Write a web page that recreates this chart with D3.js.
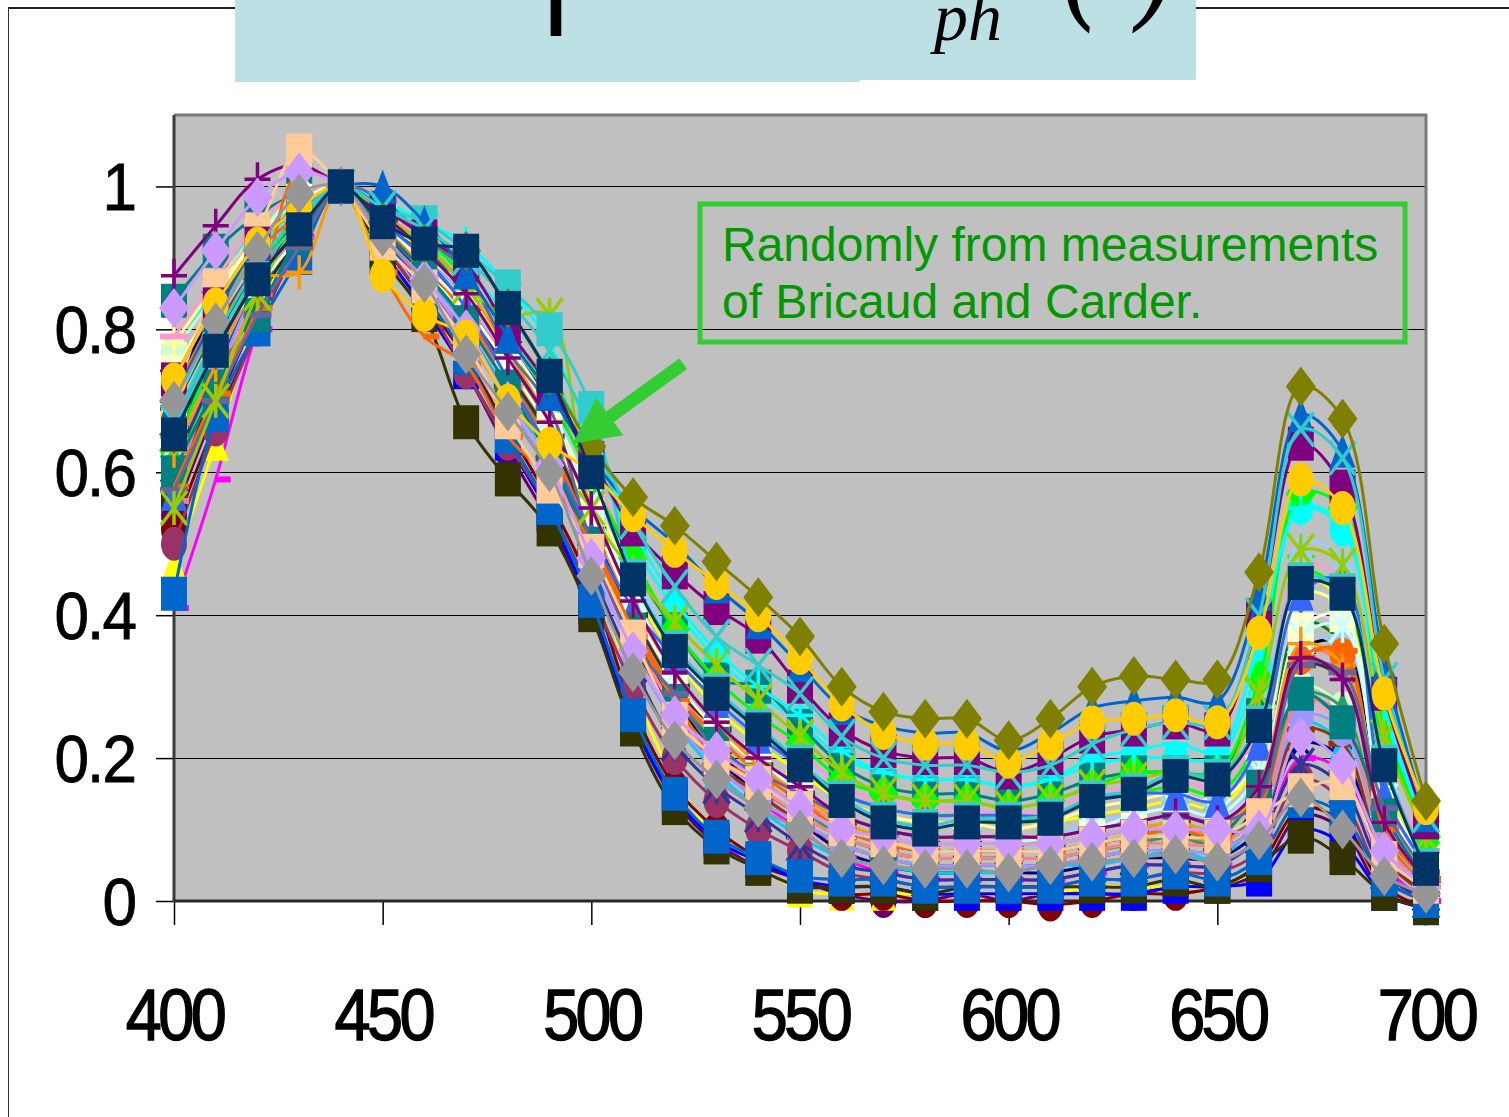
<!DOCTYPE html>
<html>
<head>
<meta charset="utf-8">
<script src="https://cdn.jsdelivr.net/npm/d3@7"></script>
<style>
  body { margin: 0; background: #fff; }
  svg { display: block; }
</style>
</head>
<body>
<svg id="chart" width="1509" height="1117"></svg>
<script>
// wavelengths (nm) and normalised a_ph spectra, one row per sample
var wavelengths = [400,410,420,430,440,450,460,470,480,490,500,510,520,530,540,550,560,570,580,590,600,610,620,630,640,650,660,670,680,690,700];
var xTicks = [400,450,500,550,600,650,700];
var yTicks = [0,0.2,0.4,0.6,0.8,1];

var spectra = [
  [.54,.69,.82,.92,1,.91,.83,.74,.63,.53,.41,.25,.14,.08,.05,.03,.01,.00,.00,.01,.00,.01,.01,.01,.02,.02,.04,.12,.10,.01,-.01],
  [.72,.83,.92,.97,1,.96,.90,.84,.76,.66,.52,.38,.27,.20,.15,.11,.07,.05,.04,.04,.04,.04,.05,.06,.06,.06,.10,.22,.20,.06,.01],
  [.65,.79,.89,.95,1,.96,.92,.86,.78,.68,.55,.42,.32,.25,.20,.16,.12,.10,.09,.09,.085,.09,.10,.11,.12,.11,.17,.40,.38,.13,.04],
  [.68,.79,.88,.95,1,.95,.91,.85,.77,.68,.56,.44,.34,.27,.22,.18,.14,.12,.11,.11,.10,.11,.12,.13,.14,.13,.20,.45,.42,.17,.06],
  [.62,.75,.87,.95,1,.95,.90,.84,.75,.65,.53,.40,.30,.23,.18,.14,.11,.09,.08,.08,.08,.08,.09,.10,.10,.10,.15,.35,.33,.11,.03],
  [.60,.74,.86,.94,1,.96,.92,.86,.78,.69,.57,.45,.35,.28,.23,.19,.15,.13,.12,.12,.11,.12,.14,.15,.16,.15,.23,.46,.43,.18,.06],
  [.64,.77,.88,.95,1,.95,.89,.82,.73,.63,.51,.38,.28,.21,.16,.12,.09,.07,.06,.06,.06,.06,.07,.08,.09,.08,.14,.35,.36,.11,.03],
  [.73,.84,.92,.97,1,.96,.92,.87,.79,.70,.58,.46,.36,.29,.24,.20,.16,.14,.13,.13,.12,.13,.15,.16,.17,.16,.25,.50,.48,.20,.07],
  [.58,.72,.85,.94,1,.94,.88,.82,.72,.62,.49,.36,.26,.19,.15,.11,.08,.06,.05,.05,.05,.05,.06,.07,.07,.07,.11,.27,.25,.07,.02],
  [.67,.79,.89,.96,1,.95,.90,.84,.76,.66,.54,.41,.31,.24,.19,.15,.11,.09,.08,.08,.08,.08,.09,.10,.11,.10,.16,.39,.36,.12,.04],
  [.41,.59,.80,.93,1,.93,.86,.79,.70,.61,.50,.37,.26,.19,.14,.10,.06,.04,.03,.03,.03,.03,.04,.05,.05,.05,.09,.20,.18,.05,.00],
  [.47,.64,.82,.94,1,.94,.88,.80,.71,.62,.47,.30,.17,.09,.05,.015,.01,.01,.01,.01,.01,.01,.02,.02,.02,.02,.05,.14,.12,.03,.00],
  [.76,.86,.94,.98,1,.95,.92,.88,.82,.74,.63,.50,.41,.34,.29,.25,.20,.18,.17,.17,.16,.17,.19,.20,.20,.20,.33,.55,.52,.26,.10],
  [.52,.67,.80,.92,1,.92,.84,.76,.66,.56,.44,.27,.16,.10,.06,.03,.01,.01,.00,.00,.00,-.005,.00,.01,.01,.02,.05,.13,.11,.02,-.01],
  [.84,.91,.96,.99,1,.96,.91,.86,.78,.70,.60,.47,.38,.31,.30,.245,.19,.16,.15,.15,.14,.15,.17,.18,.18,.18,.26,.29,.25,.12,.04],
  [.60,.72,.84,.93,1,.91,.83,.74,.64,.54,.41,.25,.145,.085,.055,.03,.02,.02,.01,.01,.01,.01,.01,.01,.02,.02,.03,.10,.08,.01,-.01],
  [.62,.76,.88,.96,1,.94,.88,.80,.71,.61,.48,.35,.25,.18,.13,.09,.06,.05,.04,.04,.04,.05,.05,.06,.07,.06,.12,.25,.22,.07,.02],
  [.77,.85,.93,.99,1,.94,.88,.82,.73,.63,.50,.37,.27,.20,.16,.12,.09,.07,.06,.06,.06,.06,.07,.08,.09,.08,.13,.30,.27,.08,.02],
  [.78,.86,.92,.97,1,.96,.91,.85,.78,.69,.57,.45,.35,.28,.23,.19,.14,.12,.11,.11,.10,.11,.13,.14,.15,.14,.20,.43,.41,.16,.05],
  [.68,.80,.90,.96,1,.95,.90,.84,.76,.67,.55,.42,.32,.25,.20,.16,.12,.10,.09,.09,.09,.09,.11,.12,.13,.12,.17,.37,.35,.12,.04],
  [.79,.87,.95,.99,1,.96,.93,.88,.79,.71,.60,.48,.38,.31,.26,.21,.16,.14,.13,.13,.12,.13,.15,.16,.17,.16,.24,.47,.45,.19,.07],
  [.50,.66,.80,.92,1,.92,.84,.74,.64,.55,.43,.30,.20,.14,.10,.07,.04,.03,.02,.02,.02,.02,.03,.03,.04,.04,.07,.17,.14,.03,.00],
  [.61,.74,.86,.95,1,.94,.87,.80,.70,.60,.46,.33,.22,.16,.12,.08,.05,.04,.03,.03,.03,.03,.04,.05,.05,.05,.09,.19,.16,.04,.00],
  [.66,.78,.88,.95,1,.95,.89,.83,.74,.64,.52,.39,.29,.22,.17,.13,.09,.07,.06,.06,.06,.06,.07,.08,.09,.08,.13,.29,.27,.09,.02],
  [.57,.72,.84,.93,1,.90,.82,.67,.59,.52,.40,.24,.13,.075,.045,.02,.02,.02,.01,.02,.02,.02,.02,.02,.03,.02,.05,.09,.06,.01,-.01],
  [.66,.78,.89,.95,1,.95,.90,.83,.74,.65,.52,.40,.30,.24,.19,.15,.11,.09,.08,.08,.08,.08,.09,.10,.11,.10,.15,.33,.31,.10,.03],
  [.69,.80,.89,.95,1,.94,.88,.81,.72,.62,.49,.36,.26,.19,.15,.11,.08,.06,.05,.05,.05,.05,.06,.07,.07,.07,.11,.24,.22,.06,.01],
  [.63,.77,.88,.96,1,.97,.93,.87,.80,.71,.59,.48,.38,.31,.26,.22,.17,.15,.14,.14,.13,.14,.16,.18,.18,.18,.31,.57,.55,.25,.09],
  [.71,.82,.91,.96,1,.94,.89,.82,.73,.64,.51,.39,.29,.23,.18,.14,.10,.08,.07,.07,.07,.07,.08,.09,.09,.09,.16,.34,.345,.09,.02],
  [.74,.84,.93,.98,1,.95,.89,.83,.75,.66,.54,.41,.31,.24,.19,.15,.11,.09,.08,.08,.08,.08,.09,.10,.11,.10,.16,.38,.40,.13,.04],
  [.59,.73,.86,.94,1,.93,.87,.79,.70,.60,.47,.35,.25,.19,.14,.11,.08,.06,.05,.05,.05,.05,.06,.07,.07,.07,.11,.26,.24,.08,.02],
  [.56,.71,.85,.94,1,.94,.88,.81,.72,.62,.50,.37,.27,.20,.16,.12,.09,.07,.06,.06,.06,.06,.07,.08,.08,.08,.12,.28,.26,.08,.02],
  [.69,.81,.91,.97,1,.98,.95,.92,.86,.78,.65,.52,.42,.35,.30,.26,.21,.18,.17,.17,.16,.17,.20,.21,.22,.21,.36,.55,.53,.27,.10],
  [.64,.78,.86,.93,1,.95,.90,.86,.77,.68,.56,.43,.32,.25,.20,.15,.11,.09,.08,.08,.08,.09,.10,.12,.13,.12,.18,.37,.385,.14,.04],
  [.57,.70,.82,.92,1,.95,.90,.83,.73,.63,.51,.41,.34,.28,.23,.19,.15,.13,.12,.12,.12,.12,.14,.15,.15,.14,.22,.43,.45,.15,.05],
  [.43,.68,.80,.90,1,.93,.85,.76,.65,.55,.42,.26,.15,.09,.06,.035,.03,.03,.02,.02,.02,.02,.03,.03,.04,.03,.06,.14,.12,.03,.00],
  [.60,.72,.82,.93,1,.94,.88,.81,.72,.62,.50,.38,.28,.22,.17,.13,.10,.08,.07,.07,.07,.07,.08,.09,.10,.09,.16,.29,.25,.12,.03],
  [.63,.75,.87,.88,1,.96,.92,.86,.77,.67,.55,.42,.32,.25,.19,.15,.11,.09,.08,.08,.08,.08,.09,.10,.11,.10,.16,.36,.33,.11,.03],
  [.58,.71,.83,1.02,1,.88,.79,.75,.65,.59,.50,.38,.28,.20,.17,.13,.10,.08,.07,.07,.07,.07,.08,.09,.10,.09,.13,.34,.35,.10,.03],
  [.575,.70,.82,.915,1,.98,.93,.88,.77,.69,.50,.36,.29,.21,.18,.15,.12,.10,.09,.09,.09,.09,.10,.11,.12,.11,.14,.33,.32,.13,.04],
  [.55,.70,.85,.95,1,.96,.92,.86,.82,.82,.55,.46,.39,.33,.28,.23,.18,.15,.14,.14,.13,.14,.16,.17,.18,.17,.29,.49,.47,.23,.09],
  [.66,.78,.88,.95,1,.97,.95,.91,.86,.80,.69,.455,.355,.295,.245,.195,.145,.115,.105,.115,.115,.12,.145,.155,.18,.175,.25,.45,.435,.195,.05],
  [.875,.945,1.01,1.03,1,.96,.91,.85,.76,.67,.55,.42,.32,.25,.20,.16,.12,.10,.09,.09,.09,.09,.10,.11,.12,.11,.16,.34,.31,.11,.03],
  [.70,.86,.94,1.05,1,.92,.86,.78,.67,.58,.49,.37,.255,.20,.165,.13,.10,.085,.07,.07,.07,.07,.08,.09,.09,.09,.12,.155,.165,.06,.02],
  [.83,.91,.985,1.02,1,.93,.87,.80,.70,.61,.48,.35,.26,.21,.17,.13,.10,.09,.08,.08,.08,.08,.09,.10,.10,.10,.10,.23,.19,.07,.02],
  [.73,.835,.92,.97,1,.97,.93,.89,.80,.72,.62,.52,.46,.41,.37,.30,.24,.21,.20,.20,.18,.20,.23,.24,.25,.24,.40,.64,.58,.29,.11],
  [.70,.82,.92,.97,1,1.0,.95,.88,.79,.71,.62,.55,.50,.44,.39,.33,.27,.245,.235,.235,.21,.235,.27,.28,.285,.28,.43,.68,.63,.33,.12],
  [.67,.79,.89,.96,1,.97,.94,.90,.84,.77,.66,.53,.44,.37,.33,.29,.23,.20,.19,.19,.18,.19,.22,.24,.25,.25,.40,.66,.62,.31,.12],
  [.73,.835,.92,.97,1,.875,.82,.79,.70,.64,.60,.54,.49,.445,.40,.34,.275,.235,.22,.22,.195,.22,.25,.255,.26,.25,.375,.59,.55,.29,.13],
  [.653,.77,.87,.94,1,.95,.92,.91,.83,.735,.636,.565,.525,.475,.425,.37,.30,.265,.255,.255,.225,.255,.30,.315,.31,.31,.46,.72,.675,.36,.14],
  [.70,.81,.91,.99,1,.93,.865,.765,.685,.60,.455,.32,.225,.17,.13,.10,.06,.05,.045,.045,.04,.05,.055,.06,.065,.055,.085,.145,.10,.035,.01],
  [.653,.77,.87,.94,1,.95,.92,.91,.83,.735,.60,.45,.35,.29,.24,.19,.14,.11,.10,.11,.11,.115,.14,.15,.175,.17,.245,.445,.43,.19,.045]
];

var seriesColors = [
  '#660066','#000080','#CCCCFF','#FFFF00','#FF8080','#00FF00','#000000','#99CCFF','#FF99CC','#008000',
  '#FF00FF','#FFFF00','#00FFFF','#800000','#008080','#0000FF','#00CCFF','#CCFFCC','#FFFF99','#99CCFF',
  '#FF99CC','#993366','#333399','#339966','#333300','#333333','#993300','#00FF00','#FF6600','#FFFFCC',
  '#9999FF','#FF8080','#00FFFF','#CCFFFF','#3366FF','#0066CC','#008080','#FF9900','#FF6600','#666699',
  '#99CC00','#33CCCC','#800080','#FFCC99','#CC99FF','#800080','#0066CC','#33CCCC','#FFCC00','#808000',
  '#969696','#003366'
];
var seriesMarkers = [
  'circle','x','circle','dash','circle','x','dot','triangle','square','plus',
  'dot','triangle','circle','circle','square','square','triangle','circle','plus','square',
  'dash','circle','star','triangle','square','dot','dash','diamond','circle','square',
  'circle','dot','plus','star','triangle','square','square','plus','dot','dash',
  'star','square','plus','square','diamond','square','triangle','x','circle','diamond',
  'diamond','square'
];

var noteLines = ['Randomly from measurements', 'of Bricaud and Carder.'];
var arrowFrom = [522, 0.752];
var arrowTo = [495.5, 0.64];

var svg = d3.select('#chart');
var W = 1509, H = 1117;
var PLOT = {left: 174, top: 115, right: 1426, bottom: 901};
var SANS = "'Liberation Sans', Arial, sans-serif";
var SERIF = "'Liberation Serif', 'Times New Roman', serif";

var x = d3.scaleLinear().domain([400, 700]).range([PLOT.left, PLOT.right]);
var y = d3.scaleLinear().domain([0, 1.1]).range([PLOT.bottom, PLOT.top]);

// outer slide frame
svg.append('line').attr('x1', 8).attr('y1', 8).attr('x2', W).attr('y2', 8)
   .attr('stroke', '#222').attr('stroke-width', 2);
svg.append('line').attr('x1', 8.5).attr('y1', 8).attr('x2', 8.5).attr('y2', H)
   .attr('stroke', '#333').attr('stroke-width', 1);

// title box (its text is mostly above the picture)
svg.append('rect').attr('x', 235).attr('y', 0).attr('width', 961).attr('height', 80).attr('fill', '#BCE0E3');
svg.append('rect').attr('x', 235).attr('y', 0).attr('width', 625).attr('height', 82).attr('fill', '#BCE0E3');
svg.append('text').attr('x', 528).attr('y', -4).attr('transform', 'scale(0.62,1)')
   .attr('font-family', SANS).attr('font-size', 195).attr('fill', '#000').text('Shape of');
svg.append('text').attr('x', 880).attr('y', -6).attr('font-family', SERIF).attr('font-style', 'italic')
   .attr('font-size', 120).attr('fill', '#000').text('a');
svg.append('text').attr('x', 934).attr('y', 40).attr('font-family', SERIF).attr('font-style', 'italic')
   .attr('font-size', 68).attr('fill', '#000').text('ph');
var paren = svg.append('text').attr('transform', 'scale(1,1.3)').attr('font-family', SERIF)
   .attr('font-style', 'italic').attr('font-size', 120).attr('fill', '#000');
paren.append('tspan').attr('x', 1062).attr('y', 0).text('(');
paren.append('tspan').attr('x', 1100).attr('y', -30).text('λ');
paren.append('tspan').attr('x', 1138).attr('y', 0).text(')');

// plot area
svg.append('rect').attr('x', PLOT.left).attr('y', PLOT.top)
   .attr('width', PLOT.right - PLOT.left).attr('height', PLOT.bottom - PLOT.top)
   .attr('fill', '#C0C0C0');

// gridlines
svg.append('g').selectAll('line').data(yTicks.filter(function(d){ return d > 0; })).enter()
   .append('line')
   .attr('x1', PLOT.left).attr('x2', PLOT.right)
   .attr('y1', function(d){ return Math.round(y(d)) + 0.5; })
   .attr('y2', function(d){ return Math.round(y(d)) + 0.5; })
   .attr('stroke', '#000').attr('stroke-width', 1);

// plot border top/right
svg.append('path')
   .attr('d', 'M' + PLOT.left + ',' + PLOT.top + 'H' + PLOT.right + 'V' + PLOT.bottom)
   .attr('fill', 'none').attr('stroke', '#7a7a7a').attr('stroke-width', 3);

// axes
var yAxis = d3.axisLeft(y).tickValues(yTicks).tickSize(18).tickSizeOuter(0)
   .tickFormat(function(d){ return d === 0 ? '0' : d === 1 ? '1' : d3.format('.1f')(d); });
var gy = svg.append('g').attr('transform', 'translate(' + PLOT.left + ',0)').call(yAxis);
gy.select('.domain').remove();
gy.selectAll('.tick line').attr('stroke', '#000').attr('stroke-width', 1.5);
gy.selectAll('.tick text')
   .attr('font-family', SANS).attr('font-size', 66).attr('fill', '#000')
   .attr('stroke', '#000').attr('stroke-width', 0.8)
   .attr('x', -39 / 0.94).attr('dy', '0.35em').attr('letter-spacing', -2)
   .attr('transform', 'scale(0.94,1)');

var xAxis = d3.axisBottom(x).tickValues(xTicks).tickSize(24).tickSizeOuter(0).tickFormat(d3.format('d'));
var gx = svg.append('g').attr('transform', 'translate(0,' + PLOT.bottom + ')').call(xAxis);
gx.select('.domain').remove();
gx.selectAll('.tick line').attr('stroke', '#000').attr('stroke-width', 1.5);
gx.selectAll('.tick text')
   .attr('font-family', SANS).attr('font-size', 72).attr('fill', '#000')
   .attr('stroke', '#000').attr('stroke-width', 1.4)
   .attr('y', 139).attr('dy', 0).attr('letter-spacing', -4)
   .attr('transform', 'scale(0.9,1)');

svg.append('line').attr('x1', PLOT.left).attr('x2', PLOT.left).attr('y1', PLOT.top).attr('y2', PLOT.bottom + 1)
   .attr('stroke', '#3a3a3a').attr('stroke-width', 3);
svg.append('line').attr('x1', PLOT.left).attr('x2', PLOT.right).attr('y1', PLOT.bottom).attr('y2', PLOT.bottom)
   .attr('stroke', '#2a2a2a').attr('stroke-width', 3);

// markers
var MW = 13, MH = 17;
var markerPaths = {
  square:   'M' + (-MW) + ',' + (-MH) + 'h' + (2 * MW) + 'v' + (2 * MH) + 'h' + (-2 * MW) + 'Z',
  diamond:  'M0,' + (-MH - 3) + 'L' + (MW + 2) + ',0L0,' + (MH + 3) + 'L' + (-MW - 2) + ',0Z',
  triangle: 'M0,' + (-MH) + 'L' + MW + ',' + MH + 'L' + (-MW) + ',' + MH + 'Z',
  x:        'M' + (-MW) + ',' + (-MH) + 'L' + MW + ',' + MH + 'M' + (-MW) + ',' + MH + 'L' + MW + ',' + (-MH),
  star:     'M' + (-MW) + ',' + (-MH) + 'L' + MW + ',' + MH + 'M' + (-MW) + ',' + MH + 'L' + MW + ',' + (-MH) + 'M0,' + (-MH) + 'V' + MH,
  plus:     'M' + (-MW) + ',0H' + MW + 'M0,' + (-MH) + 'V' + MH,
  dot:      'M-1,-3h16v6h-16Z',
  dash:     'M' + (-MW - 1) + ',-3h' + (2 * MW + 2) + 'v6h' + (-2 * MW - 2) + 'Z'
};
var strokedMarkers = {x: true, star: true, plus: true};

var line = d3.line()
   .x(function(d, i){ return x(wavelengths[i]); })
   .y(function(d){ return y(d); })
   .curve(d3.curveCatmullRom.alpha(0.5));

var series = svg.append('g').selectAll('g.series').data(spectra).enter()
   .append('g').attr('class', 'series');

series.append('path')
   .attr('d', line)
   .attr('fill', 'none')
   .attr('stroke', function(d, i){ return seriesColors[i]; })
   .attr('stroke-width', 3);

series.each(function(vals, i) {
  var type = seriesMarkers[i], col = seriesColors[i];
  var g = d3.select(this);
  vals.forEach(function(v, j) {
    var cx = x(wavelengths[j]), cy = y(v);
    if (type === 'circle') {
      g.append('ellipse').attr('cx', cx).attr('cy', cy).attr('rx', MW).attr('ry', MH).attr('fill', col);
    } else if (strokedMarkers[type]) {
      g.append('path').attr('transform', 'translate(' + cx + ',' + cy + ')').attr('d', markerPaths[type])
       .attr('fill', 'none').attr('stroke', col).attr('stroke-width', 3.5);
    } else {
      g.append('path').attr('transform', 'translate(' + cx + ',' + cy + ')').attr('d', markerPaths[type])
       .attr('fill', col);
    }
  });
});

// annotation box
svg.append('rect').attr('x', 700).attr('y', 204).attr('width', 705).attr('height', 138)
   .attr('fill', 'none').attr('stroke', '#33CC33').attr('stroke-width', 5);
svg.append('g').selectAll('text').data(noteLines).enter().append('text')
   .attr('x', 722).attr('y', function(d, i){ return 261 + i * 57; })
   .attr('font-family', SANS).attr('font-size', 48).attr('fill', '#009900')
   .text(function(d){ return d; });

// arrow
var ax0 = x(arrowFrom[0]), ay0 = y(arrowFrom[1]);
var ax1 = x(arrowTo[0]), ay1 = y(arrowTo[1]);
var dx = ax1 - ax0, dy = ay1 - ay0, len = Math.sqrt(dx * dx + dy * dy);
var ux = dx / len, uy = dy / len, nx = -uy, ny = ux;
var headLen = 46, headHalf = 23;
var bx = ax1 - ux * headLen, by = ay1 - uy * headLen;
svg.append('line').attr('x1', ax0).attr('y1', ay0).attr('x2', bx + ux * 2).attr('y2', by + uy * 2)
   .attr('stroke', '#33CC33').attr('stroke-width', 13);
svg.append('path')
   .attr('d', 'M' + ax1 + ',' + ay1 + 'L' + (bx + nx * headHalf) + ',' + (by + ny * headHalf) +
              'L' + (bx - nx * headHalf) + ',' + (by - ny * headHalf) + 'Z')
   .attr('fill', '#33CC33');
</script>
</body>
</html>
